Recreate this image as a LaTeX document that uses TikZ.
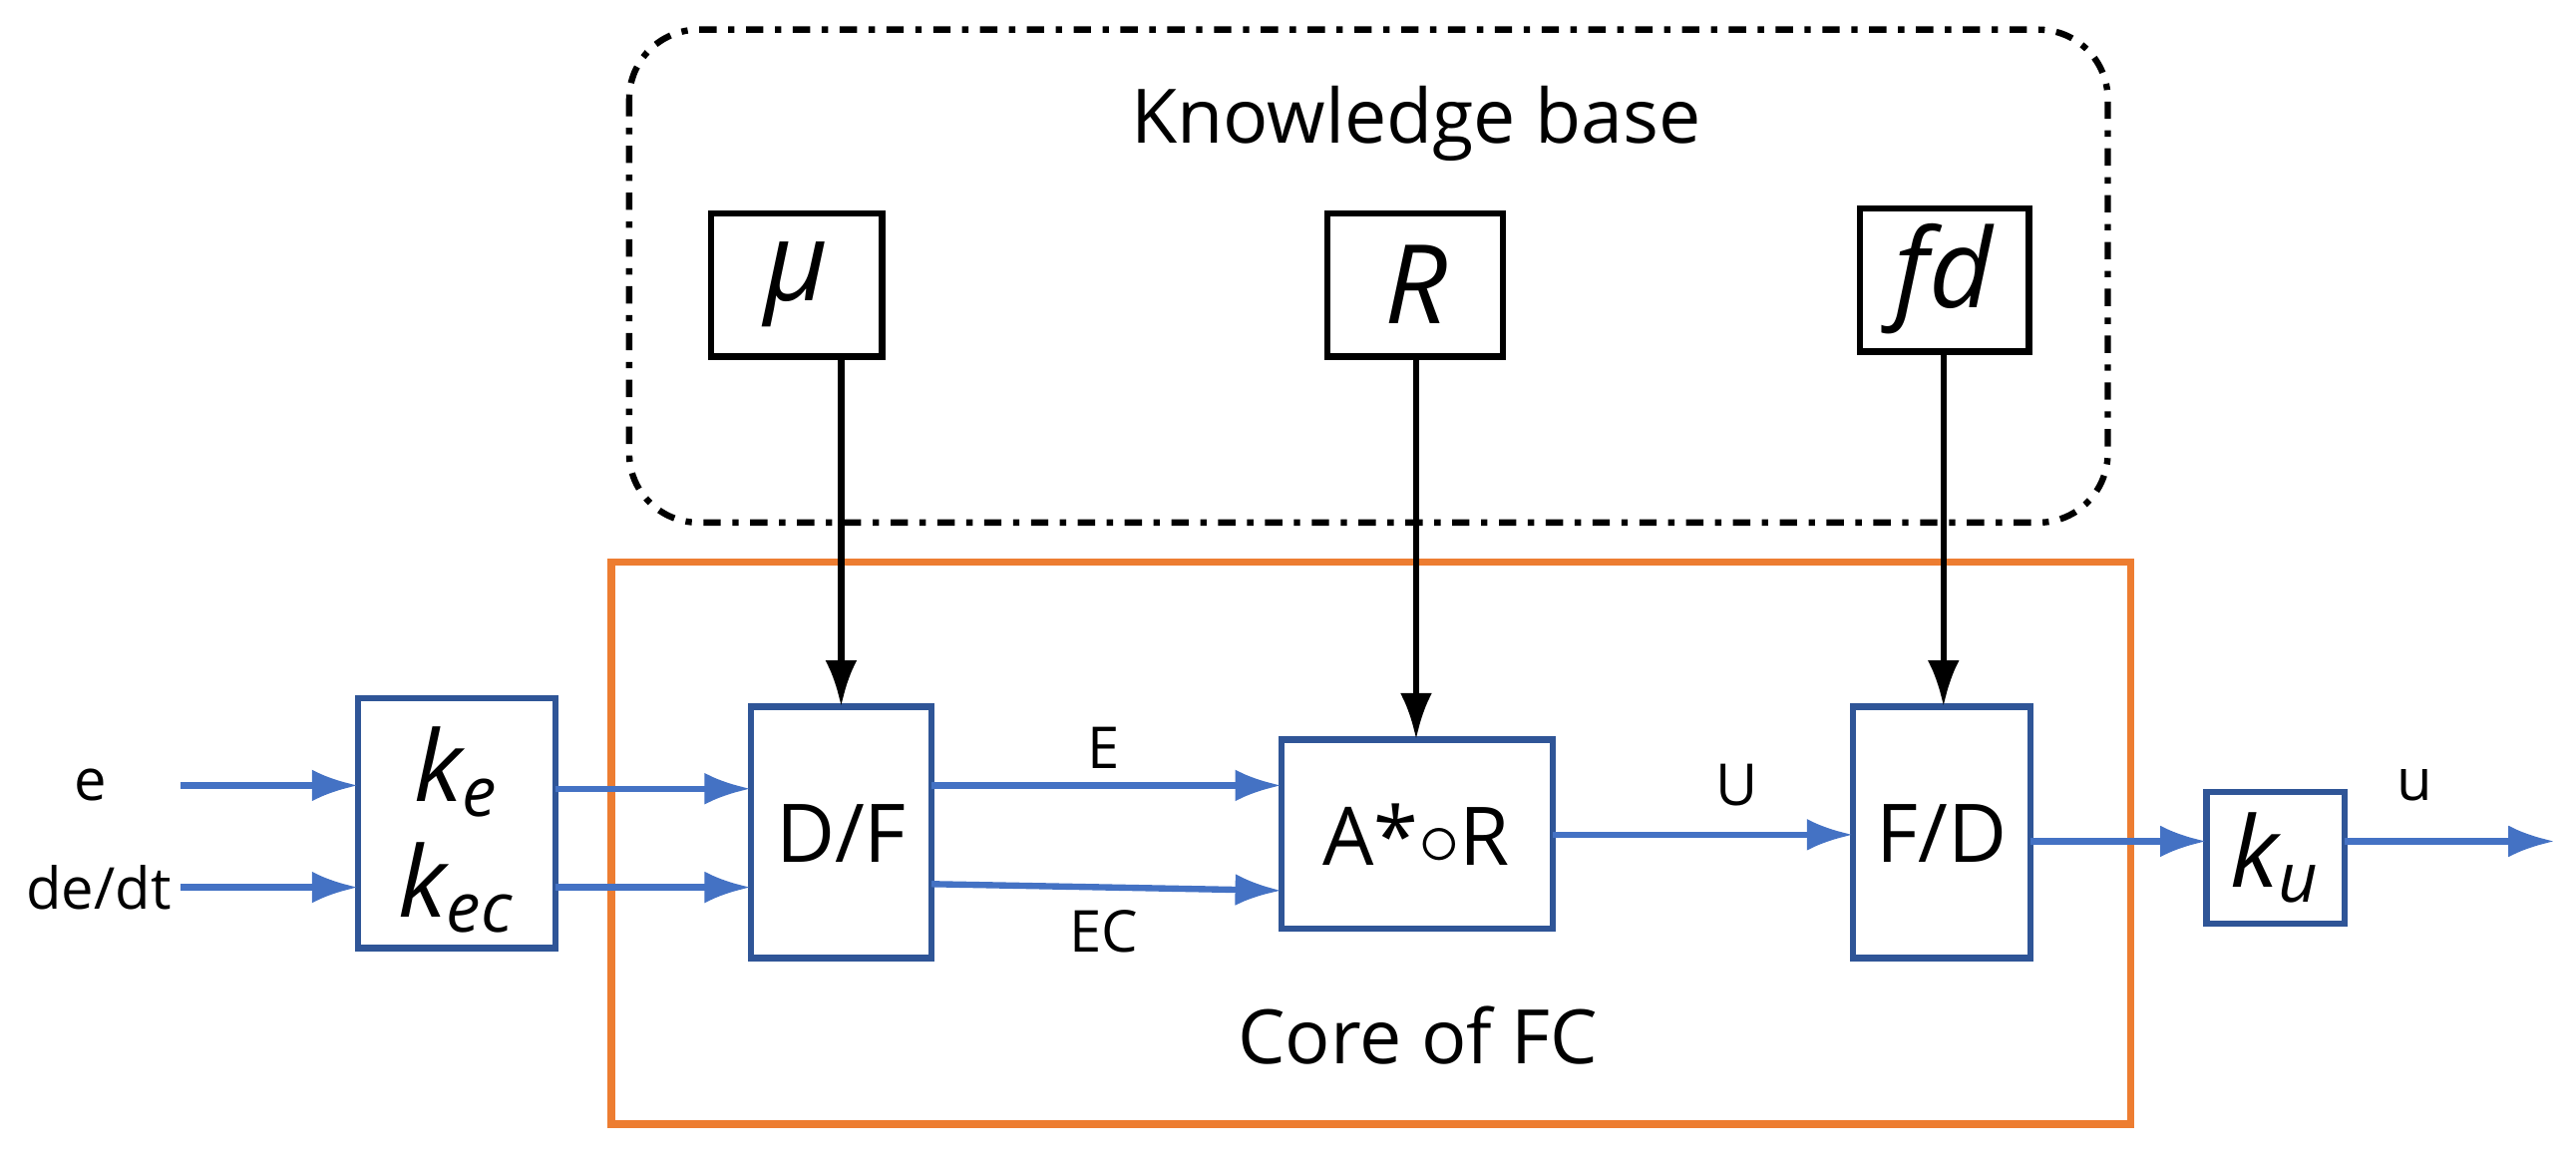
\documentclass[tikz,border=0pt]{standalone}
\usepackage{fontspec}
\setmainfont{Open Sans}
\usetikzlibrary{arrows.meta}
\definecolor{lblue}{HTML}{4472C4}
\definecolor{dblue}{HTML}{2F5597}
\definecolor{orng}{HTML}{ED7D31}
\begin{document}
\begin{tikzpicture}[x=0.01cm,y=-0.01cm,
  kbox/.style={inner sep=0pt,font=\fontsize{19}{23}\selectfont\itshape},
  barr/.style={-{Latex[length=8pt,width=5.5pt]},lblue,line width=1.1pt},
  karr/.style={-{Latex[length=8pt,width=5.5pt]},black,line width=1.1pt},
  lbl/.style={font=\fontsize{10}{12}\selectfont},
  kt/.style={font=\fontsize{17}{20}\selectfont\itshape},
  bt/.style={font=\fontsize{14}{17}\selectfont},
  bx/.style={dblue,line width=1.1pt}]
\useasboundingbox (0,0) rectangle (1568,714);
\draw[line width=1.1pt,dash dot,rounded corners=12pt] (383,18) rectangle (1283,318);
\node[font=\fontsize{13}{16}\selectfont] (kb) at (862,75) {Knowledge base};
\draw[orng,line width=1.3pt] (372,342) rectangle (1297,684);
\node[font=\fontsize{13}{16}\selectfont] (core) at (863,630) {Core of FC};
% knowledge boxes
\draw[line width=1.1pt] (433,130) rectangle (537,217); \node[kbox] (mu) at (485,173) {μ};
\draw[line width=1.1pt] (808,130) rectangle (915,217); \node[kbox] (R) at (862,173) {R};
\draw[line width=1.1pt] (1132,127) rectangle (1235,214); \node[kbox] (fd) at (1183,170) {fd};
\coordinate (mub) at (512,217); \coordinate (Rb) at (862,217); \coordinate (fdb) at (1183,214);
% blue boxes
\draw[bx] (218,425) rectangle (338,577);
\node[kt] (ke) at (278,470) {k\textsubscript{e}};
\node[kt] (kec) at (278,540) {k\textsubscript{ec}};
\draw[bx] (457,430) rectangle (567,583);
\node[bt] (df) at (512,507) {D/F};
\draw[bx] (780,450) rectangle (945,565);
\node[bt] (ar) at (862,508) {A*$\circ$R};
\draw[bx] (1128,430) rectangle (1236,583);
\node[bt] (fdd) at (1182,507) {F/D};
\draw[bx] (1343,482) rectangle (1427,562);
\node[kt] (ku) at (1385,522) {k\textsubscript{u}};
% labels
\node[lbl] (e) at (55,478) {e};
\node[lbl] (dedt) at (60,540) {de/dt};
\node[lbl] (E) at (672,455) {E};
\node[lbl] (EC) at (672,567) {EC};
\node[lbl] (U) at (1057,478) {U};
\node[lbl] (u) at (1470,478) {u};
\coordinate (out) at (1555,512);
\coordinate (a1) at (110,478); \coordinate (a1e) at (218,478);
\coordinate (a2) at (110,540); \coordinate (a2e) at (218,540);
\draw[barr] (a1) -- (a1e);
\draw[barr] (a2) -- (a2e);
\draw[barr] (338,480) -- (457,480);
\draw[barr] (338,540) -- (457,540);
\draw[barr] (567,478) -- (780,478);
\draw[barr] (567,538) -- (780,542);
\draw[barr] (945,508) -- (1128,508);
\draw[barr] (1236,512) -- (1343,512);
\draw[barr] (1427,512) -- (out);
\draw[karr] (mub) -- (512,430);
\draw[karr] (Rb) -- (862,450);
\draw[karr] (fdb) -- (1183,430);
\end{tikzpicture}
\end{document}
